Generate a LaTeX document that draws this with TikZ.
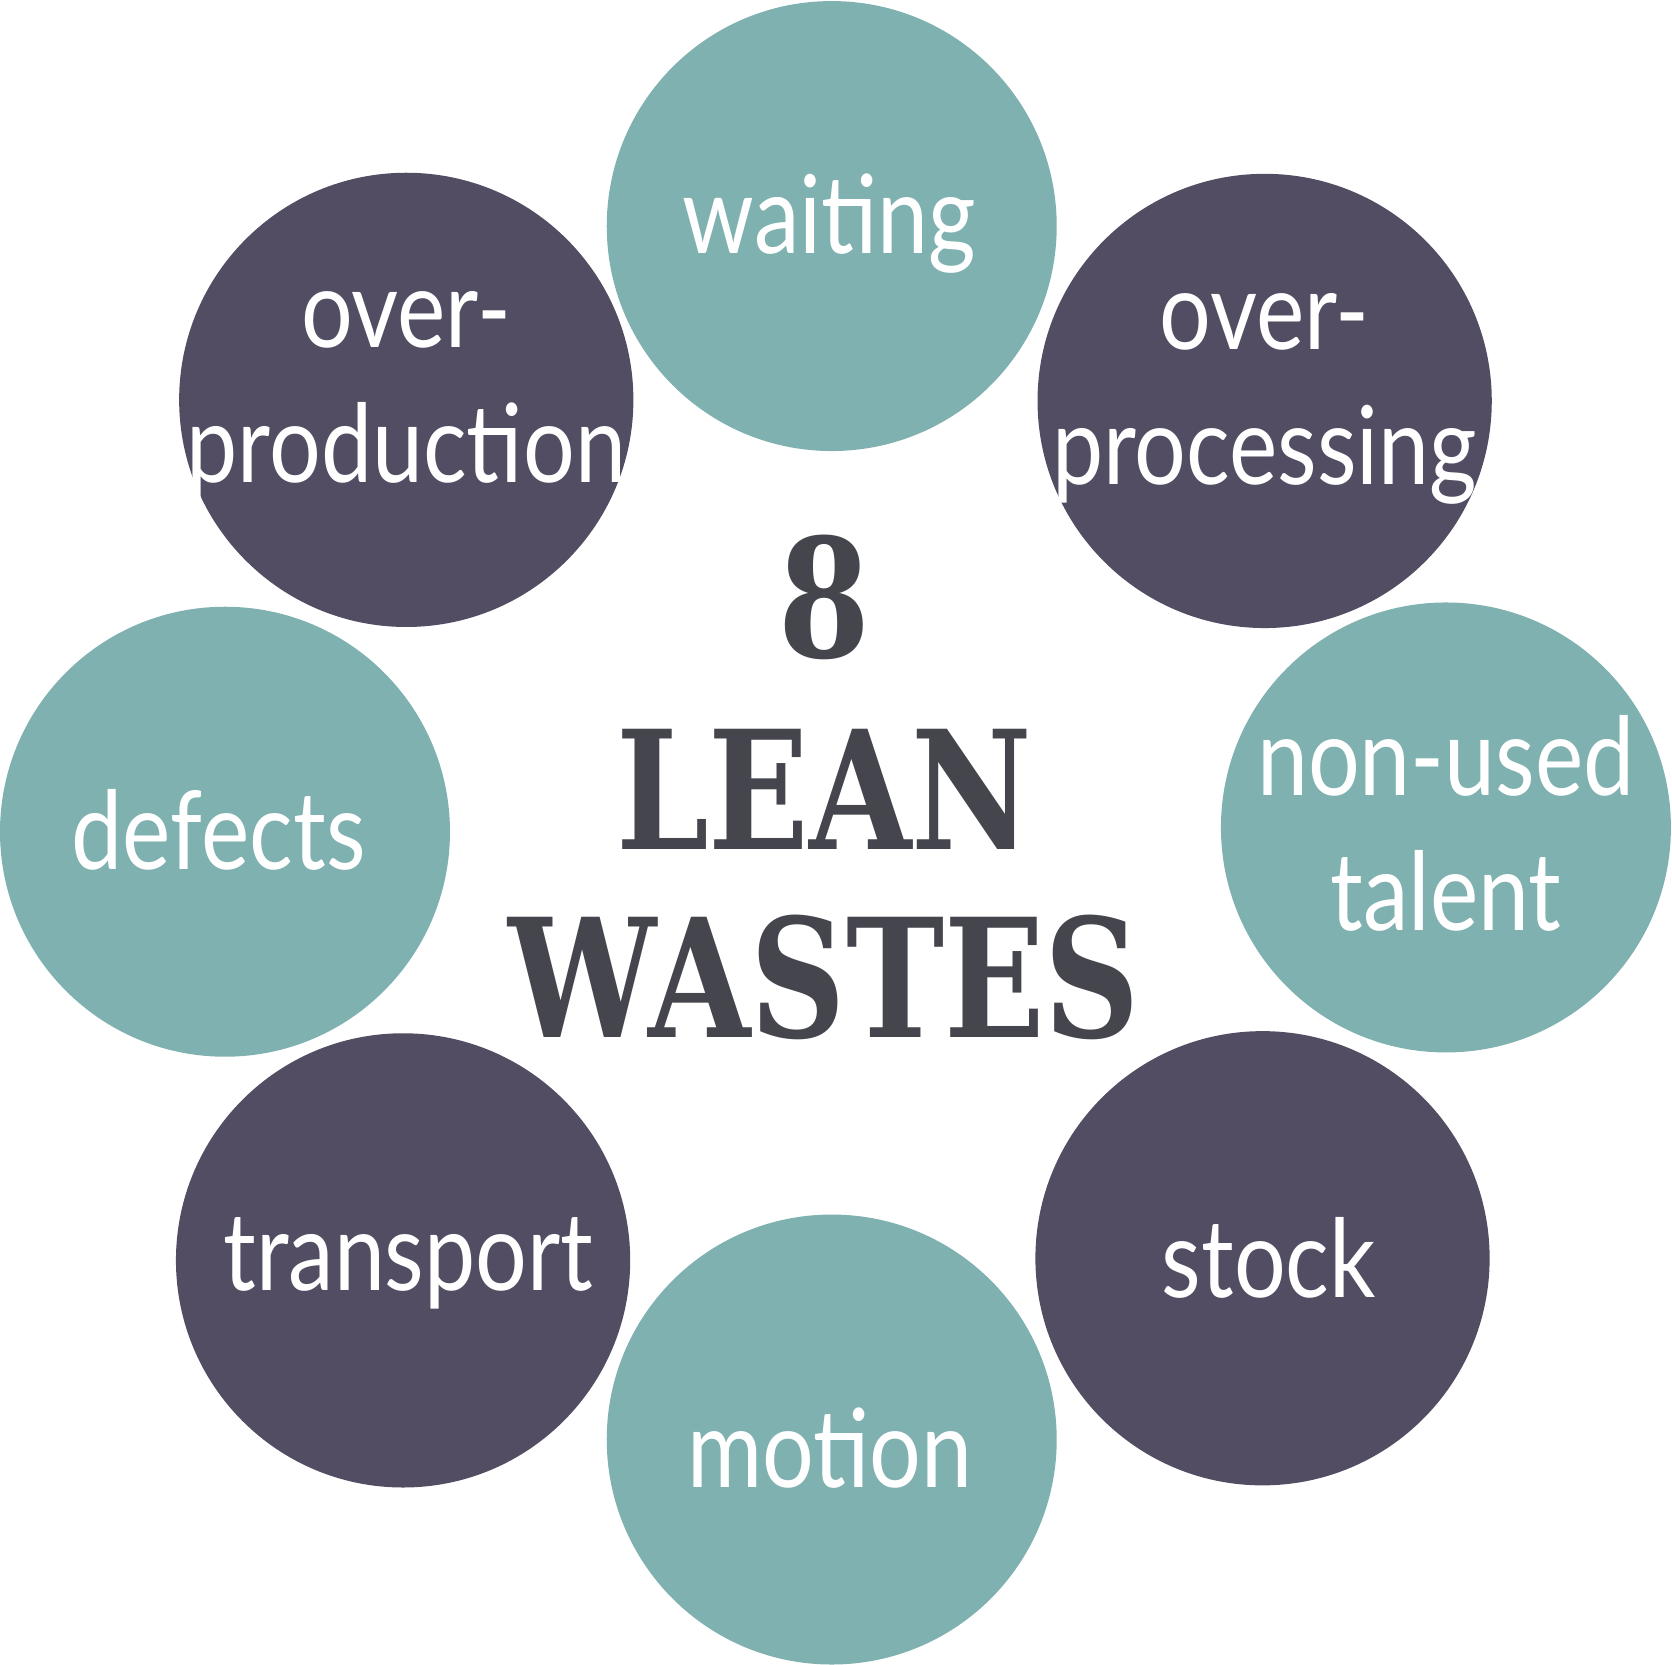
\documentclass[tikz,border=0pt]{standalone}
\usepackage{fontspec}
\setmainfont{Lato}
\newfontfamily\slab{DejaVu Serif}
\definecolor{teal}{HTML}{7FB1B0}
\definecolor{purp}{HTML}{524D63}
\definecolor{ink}{HTML}{45454D}
\begin{document}
\begin{tikzpicture}[x=0.01cm,y=-0.01cm,
  tl/.style={text=white,font=\fontsize{29}{36}\selectfont,align=center,xscale=0.84},
  big/.style={text=ink,font=\slab\bfseries\fontsize{44}{48}\selectfont,xscale=0.8}]
\useasboundingbox (0,0) rectangle (1568,1561);
\fill[teal] (780,212) circle (211);
\fill[purp] (381,375) circle (213);
\fill[purp] (1186,376) circle (213);
\fill[teal] (1356,776) circle (211);
\fill[teal] (211,780) circle (211);
\fill[purp] (378,1182) circle (213);
\fill[purp] (1184,1180) circle (213);
\fill[teal] (780,1350) circle (211);
\node[tl] (w) at (778,210) {waiting};
\node[tl] (op) at (381,372) {over-\\production};
\node[tl] (opc) at (1186,374) {over-\\processing};
\node[tl] (nu) at (1356,772) {non-used\\talent};
\node[tl] (d) at (205,778) {defects};
\node[tl] (t) at (383,1185) {transport};
\node[tl] (s) at (1190,1180) {stock};
\node[tl] (m) at (778,1358) {motion};
\node[big] (e) at (773,560) {8};
\node[big] (l) at (773,740) {LEAN};
\node[big] (ws) at (773,917) {WASTES};
\end{tikzpicture}
\end{document}
